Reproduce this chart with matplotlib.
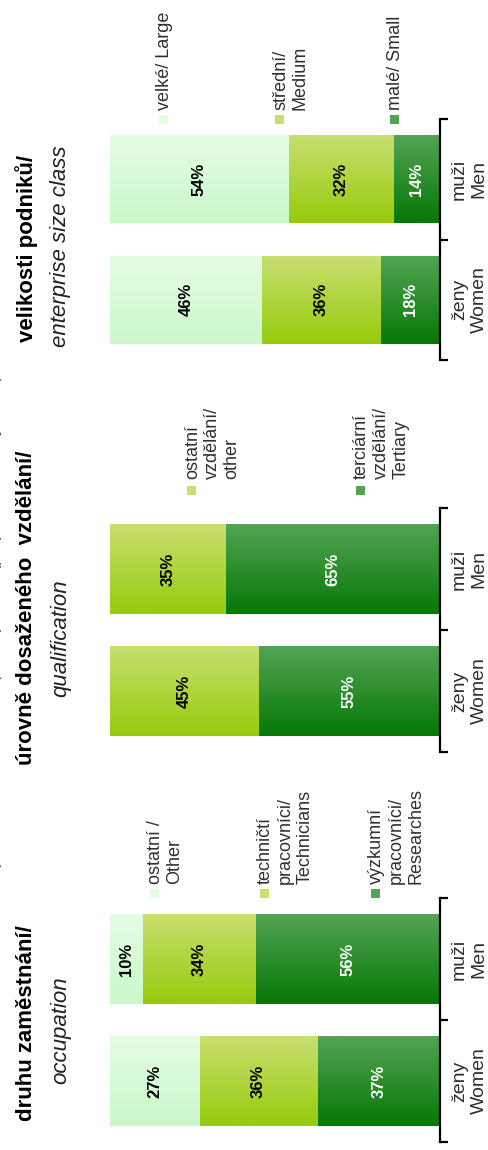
import matplotlib
matplotlib.use("Agg")
import matplotlib.pyplot as plt
import numpy as np
from matplotlib.patches import Rectangle
from matplotlib.colors import to_rgb

# ---------------- data ----------------
categories = ["ženy\nWomen", "muži\nMen"]

occ_series = ["výzkumní\npracovníci/\nResearches", "techničtí\npracovníci/\nTechnicians", "ostatní /\nOther"]
occ_researchers = [37, 56]
occ_technicians = [36, 34]
occ_other = [27, 10]

qual_series = ["terciární\nvzdělání/\nTertiary", "ostatní\nvzdělání/\nother"]
qual_tertiary = [55, 65]
qual_other = [45, 35]

size_series = ["malé/ Small", "střední/\nMedium", "velké/ Large"]
size_small = [18, 14]
size_medium = [36, 32]
size_large = [46, 54]

titles = ["druhu zaměstnání/", "úrovně dosaženého  vzdělání/", "velikosti podniků/"]
subtitles = ["occupation", "qualification", "enterprise size class"]
header = "Zaměstnanci VaV v podnikatelském sektoru podle pohlaví (přepočtené osoby, 2011)"

# ---------------- style ----------------
DARK = ("#067806", "#53a453")
LIME = ("#97cb0c", "#c8df70")
LIGHT = ("#cbf8cb", "#e3fde3")

W, H = 489, 1150
fig = plt.figure(figsize=(W / 100, H / 100), dpi=100)
FONT = "Liberation Sans"


def grad(c_bot, c_top, n=64):
    a, b = np.array(to_rgb(c_bot)), np.array(to_rgb(c_top))
    t = np.linspace(0, 1, n)[:, None]
    return (a * (1 - t) + b * t)[:, None, :]


def px_axes(x0, top, x1, bot):
    return fig.add_axes([x0 / W, 1 - bot / H, (x1 - x0) / W, (bot - top) / H])


def panel(top, bot, values, colors, txtcolors):
    ax = px_axes(110, top, 440, bot)
    y = np.arange(len(categories))
    left = np.zeros(len(categories))
    for vals, col, tc in zip(values, colors, txtcolors):
        vals = np.array(vals, dtype=float)
        bars = ax.barh(y, vals, left=left, height=0.73, color=col[1], edgecolor="none", zorder=1)
        for b, v in zip(bars, vals):
            x0, y0, w, h = b.get_x(), b.get_y(), b.get_width(), b.get_height()
            ax.imshow(grad(*col), extent=[x0, x0 + w, y0, y0 + h], origin="lower",
                      aspect="auto", interpolation="bilinear", zorder=2)
            ax.text(x0 + w / 2, y0 + h / 2, f"{int(v)}%", rotation=90, ha="center", va="center",
                    color=tc, fontsize=12, fontweight="bold", family=FONT, zorder=3)
        left += vals
    ax.set_xlim(100, 0)
    ax.set_ylim(-0.5, len(categories) - 0.5)
    for s in ["top", "left", "bottom"]:
        ax.spines[s].set_visible(False)
    ax.spines["right"].set_linewidth(1.6)
    ax.xaxis.set_visible(False)
    ax.yaxis.tick_right()
    ax.set_yticks(y)
    ax.set_yticks(np.arange(-0.5, len(categories)), minor=True)
    ax.tick_params(axis="y", which="major", length=0, pad=8)
    ax.tick_params(axis="y", which="minor", length=6, width=1.6, direction="out")
    ax.set_yticklabels(categories)
    for t in ax.get_yticklabels(which="major"):
        t.set_rotation(90)
        t.set_ha("left")
        t.set_va("center")
        t.set_multialignment("center")
        t.set_fontsize(14)
        t.set_family(FONT)
        t.set_color("#303030")
    return ax


def fy(p):
    return 1 - p / H


def legend_entry(x, y_text, sq_y, label, col):
    fig.patches.append(Rectangle(((x + 3) / W, fy(sq_y + 9)), 9 / W, 9 / H,
                                 transform=fig.transFigure, facecolor=col[1],
                                 edgecolor="none"))
    fig.text(x / W, fy(y_text), label, rotation=90, rotation_mode="anchor",
             ha="left", va="top", fontsize=13, family=FONT, color="#303030",
             linespacing=1.2)


# occupation panel (bottom)
panel(898, 1142, [occ_researchers, occ_technicians, occ_other],
      [DARK, LIME, LIGHT], ["white", "black", "black"])
# qualification panel (middle)
panel(508, 752, [qual_tertiary, qual_other], [DARK, LIME], ["white", "black"])
# enterprise size panel (top)
panel(119, 360, [size_small, size_medium, size_large],
      [DARK, LIME, LIGHT], ["white", "black", "black"])

# legends
for x, lab, col in zip([368, 257, 147], occ_series, [DARK, LIME, LIGHT]):
    legend_entry(x, 884, 889, lab, col)
for x, lab, col in zip([353, 184], qual_series, [DARK, LIME]):
    legend_entry(x, 479, 486, lab, col)
for x, lab, col in zip([387, 272, 156], size_series, [DARK, LIME, LIGHT]):
    legend_entry(x, 110, 115, lab, col)

# titles
for yc, t in zip([1023, 608, 248], titles):
    fig.text(27 / W, fy(yc), t, rotation=90, ha="center", va="center",
             fontsize=16, fontweight="bold", family=FONT, color="black")
for yc, t in zip([1030, 638, 246], subtitles):
    fig.text(61 / W, fy(yc), t, rotation=90, ha="center", va="center",
             fontsize=16, style="italic", family=FONT, color="#222222")

# header line, mostly cut off at the left edge (as in the reference)
fig.text(-5 / W, fy(698), header, rotation=90, ha="center", va="center",
         fontsize=12.5, family=FONT, color="#444444")

fig.savefig("out.png", dpi=100)
